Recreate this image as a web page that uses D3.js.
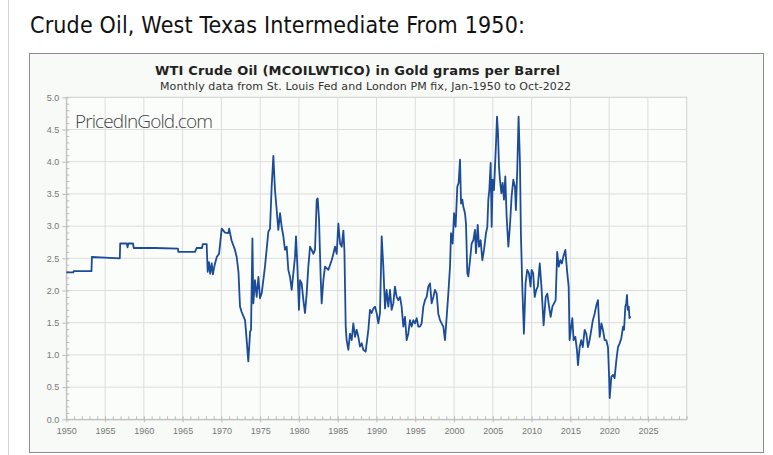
<!DOCTYPE html>
<meta charset="utf-8">
<style>
body {
  margin: 0;
  background: #fff;
}
.heading {
  font-family: "DejaVu Sans Condensed", "DejaVu Sans", sans-serif;
  font-size: 23px;
  fill: #111;
}
.frame {
  fill: #f7faf6;
  stroke: #8c8c8c;
  stroke-width: 1px;
}
.title {
  font-family: "DejaVu Sans", sans-serif;
  font-weight: bold;
  font-size: 13px;
  fill: #222;
}
.subtitle {
  font-family: "DejaVu Sans", sans-serif;
  font-size: 11px;
  fill: #333;
}
.grid line {
  stroke: #dcdcdc;
  stroke-width: 1px;
}
.axis text {
  font-family: "Liberation Sans", Arial, sans-serif;
  font-size: 9px;
  fill: #777;
}
.axis path, .axis line {
  stroke: #bbb;
}
.watermark {
  font-family: "Open Sans", "DejaVu Sans", sans-serif;
  font-weight: 300;
  font-size: 19px;
  fill: #444;
}
.price {
  fill: none;
  stroke: #1c4c98;
  stroke-width: 1.8px;
  stroke-linejoin: round;
}
</style>
<body>
<script src="https://d3js.org/d3.v7.min.js"></script>
<script>

var width = 773,
    height = 455;

// decimal year of each reading, and WTI in gold grams per barrel
var dates = [
  1950.0, 1950.9, 1950.95, 1953.25, 1953.3, 1955.0, 1956.9, 1956.95, 1957.8, 1957.9,
  1958.0, 1958.6, 1958.7, 1961.5, 1964.4, 1964.45, 1966.6, 1966.8, 1967.5, 1967.6,
  1968.1, 1968.23, 1968.4, 1968.55, 1968.75, 1968.9, 1969.1, 1969.4, 1969.7, 1970.04,
  1970.47, 1970.9, 1971.0, 1971.3, 1971.75, 1971.97, 1972.2, 1972.4, 1972.6, 1973.05,
  1973.26, 1973.47, 1973.7, 1973.82, 1974.0, 1974.12, 1974.33, 1974.55, 1974.77, 1974.98,
  1975.2, 1975.62, 1976.05, 1976.27, 1976.48, 1976.7, 1976.91, 1977.13, 1977.34, 1977.56,
  1977.77, 1977.99, 1978.2, 1978.42, 1978.63, 1978.85, 1979.06, 1979.28, 1979.49, 1979.62,
  1979.8, 1980.0, 1980.14, 1980.35, 1980.57, 1980.78, 1981.0, 1981.21, 1981.43, 1981.64,
  1981.86, 1982.07, 1982.29, 1982.42, 1982.59, 1982.8, 1982.93, 1983.15, 1983.36, 1983.79,
  1984.22, 1984.44, 1984.65, 1984.87, 1985.08, 1985.3, 1985.51, 1985.73, 1985.86, 1986.03,
  1986.15, 1986.37, 1986.58, 1986.8, 1987.01, 1987.23, 1987.44, 1987.66, 1987.87, 1988.09,
  1988.3, 1988.6, 1988.95, 1989.16, 1989.38, 1989.59, 1989.81, 1990.02, 1990.24, 1990.45,
  1990.67, 1990.88, 1991.1, 1991.3, 1991.52, 1991.74, 1991.95, 1992.17, 1992.38, 1992.6,
  1992.81, 1993.03, 1993.24, 1993.46, 1993.67, 1993.89, 1994.1, 1994.32, 1994.53, 1994.75,
  1994.96, 1995.18, 1995.39, 1995.61, 1995.82, 1996.04, 1996.25, 1996.47, 1996.68, 1996.9,
  1997.11, 1997.33, 1997.54, 1997.76, 1997.97, 1998.19, 1998.4, 1998.62, 1998.83, 1999.05,
  1999.26, 1999.48, 1999.61, 1999.82, 2000.0, 2000.2, 2000.42, 2000.59, 2000.77, 2000.9,
  2001.07, 2001.2, 2001.41, 2001.54, 2001.71, 2001.84, 2002.06, 2002.27, 2002.49, 2002.7,
  2002.83, 2003.05, 2003.22, 2003.43, 2003.65, 2003.86, 2004.12, 2004.29, 2004.42, 2004.55,
  2004.72, 2004.85, 2004.98, 2005.15, 2005.28, 2005.41, 2005.54, 2005.67, 2005.8, 2005.92,
  2006.1, 2006.27, 2006.44, 2006.61, 2006.78, 2007.0, 2007.2, 2007.42, 2007.64, 2007.85,
  2007.98, 2008.15, 2008.32, 2008.5, 2008.62, 2008.8, 2009.01, 2009.22, 2009.44, 2009.65,
  2009.87, 2010.0, 2010.2, 2010.4, 2010.6, 2010.8, 2011.05, 2011.27, 2011.55, 2011.82,
  2012.03, 2012.25, 2012.46, 2012.68, 2012.89, 2013.1, 2013.3, 2013.5, 2013.7, 2013.9,
  2014.1, 2014.35, 2014.56, 2014.78, 2014.9, 2015.1, 2015.25, 2015.42, 2015.64, 2015.85,
  2015.98, 2016.2, 2016.4, 2016.6, 2016.84, 2017.05, 2017.27, 2017.48, 2017.7, 2017.9,
  2018.13, 2018.35, 2018.56, 2018.78, 2019.0, 2019.2, 2019.42, 2019.63, 2019.85, 2019.98,
  2020.07, 2020.28, 2020.5, 2020.7, 2020.93, 2021.14, 2021.36, 2021.57, 2021.79, 2021.92,
  2022.09, 2022.2, 2022.3, 2022.4, 2022.53, 2022.62, 2022.75
];

var gramsPerBarrel = [
  2.28, 2.28, 2.30, 2.30, 2.52, 2.51, 2.50, 2.73, 2.73, 2.67,
  2.73, 2.73, 2.66, 2.66, 2.65, 2.60, 2.60, 2.66, 2.66, 2.72,
  2.72, 2.29, 2.44, 2.26, 2.42, 2.25, 2.38, 2.52, 2.57, 2.96,
  2.90, 2.89, 2.96, 2.78, 2.63, 2.52, 2.29, 1.75, 1.67, 1.54,
  1.23, 0.90, 1.36, 1.39, 2.81, 1.80, 2.16, 1.90, 2.21, 1.88,
  1.96, 2.37, 2.91, 2.96, 3.61, 4.09, 3.56, 3.25, 2.94, 3.20,
  2.99, 2.84, 2.63, 2.68, 2.32, 2.21, 2.01, 2.27, 2.52, 2.84,
  2.37, 1.70, 2.16, 2.11, 1.85, 1.65, 1.96, 2.37, 2.68, 2.63,
  2.57, 2.63, 3.41, 3.43, 3.10, 2.21, 1.80, 2.16, 2.37, 2.32,
  2.47, 2.57, 2.68, 2.57, 3.04, 2.73, 2.68, 2.93, 2.63, 1.44,
  1.23, 1.08, 1.33, 1.23, 1.49, 1.28, 1.39, 1.28, 1.13, 1.18,
  1.08, 1.05, 1.39, 1.70, 1.65, 1.72, 1.75, 1.65, 1.49, 1.65,
  2.84, 2.37, 1.72, 2.01, 1.75, 2.01, 1.70, 1.80, 2.06, 1.90,
  1.85, 1.90, 1.75, 1.44, 1.59, 1.23, 1.33, 1.54, 1.44, 1.54,
  1.49, 1.57, 1.44, 1.44, 1.49, 1.75, 1.85, 1.90, 2.06, 2.11,
  1.80, 1.90, 2.01, 1.95, 1.64, 1.54, 1.49, 1.44, 1.23, 1.59,
  1.95, 2.37, 2.89, 2.73, 3.20, 2.99, 3.61, 3.67, 4.03, 3.35,
  3.41, 3.30, 3.20, 3.04, 2.27, 2.22, 2.47, 2.73, 2.78, 2.94,
  2.58, 3.02, 2.68, 2.78, 2.47, 2.63, 2.89, 2.99, 3.41, 3.56,
  3.98, 2.99, 3.72, 3.56, 3.92, 4.28, 4.70, 4.44, 3.92, 3.72,
  3.51, 3.67, 3.41, 3.77, 3.15, 2.68, 2.99, 3.46, 3.72, 3.61,
  3.25, 3.87, 4.70, 3.98, 2.89, 2.06, 1.33, 2.11, 2.32, 2.27,
  2.06, 2.32, 2.27, 1.90, 2.01, 2.06, 2.42, 2.06, 1.46, 1.90,
  1.95, 1.75, 1.59, 1.75, 1.80, 1.85, 2.60, 2.37, 2.47, 2.42,
  2.53, 2.63, 2.32, 2.06, 1.23, 1.44, 1.57, 1.23, 1.28, 1.07,
  0.84, 1.12, 1.23, 1.12, 1.39, 1.33, 1.12, 1.23, 1.39, 1.54,
  1.64, 1.77, 1.85, 1.28, 1.49, 1.39, 1.23, 1.23, 1.12, 0.71,
  0.33, 0.66, 0.69, 0.64, 0.92, 1.12, 1.18, 1.26, 1.44, 1.39,
  1.75, 1.80, 1.93, 1.70, 1.75, 1.57, 1.60
];

var yearTicks = d3.range(1950, 2026, 5);
var valueTicks = d3.range(0, 5.01, 0.5);

var x = d3.scaleLinear()
    .domain([1950, 2030])
    .range([66.3, 686.7]);

var y = d3.scaleLinear()
    .domain([0, 5])
    .range([419.3, 97.3]);

var svg = d3.select("body").append("svg")
    .attr("width", width)
    .attr("height", height);

// page rule on the left
svg.append("line")
    .attr("x1", 8.5).attr("x2", 8.5)
    .attr("y1", 0).attr("y2", height)
    .attr("stroke", "#d4d4d4");

svg.append("text")
    .attr("class", "heading")
    .attr("x", 30)
    .attr("y", 33)
    .attr("textLength", 495)
    .text("Crude Oil, West Texas Intermediate From 1950:");

svg.append("rect")
    .attr("class", "frame")
    .attr("x", 29.5)
    .attr("y", 53.5)
    .attr("width", 734)
    .attr("height", 399);

svg.append("text")
    .attr("class", "title")
    .attr("x", 155)
    .attr("y", 75)
    .attr("textLength", 405)
    .text("WTI Crude Oil (MCOILWTICO) in Gold grams per Barrel");

svg.append("text")
    .attr("class", "subtitle")
    .attr("x", 160)
    .attr("y", 90)
    .attr("textLength", 411)
    .text("Monthly data from St. Louis Fed and London PM fix, Jan-1950 to Oct-2022");

// plot background + grid
svg.append("rect")
    .attr("x", x(1950)).attr("y", y(5))
    .attr("width", x(2030) - x(1950))
    .attr("height", y(0) - y(5))
    .attr("fill", "#fbfdfb")
    .attr("stroke", "#cfcfcf");

svg.append("g")
    .attr("class", "grid")
    .selectAll("line.v")
    .data(yearTicks.slice(1))
  .enter().append("line")
    .attr("x1", d => x(d)).attr("x2", d => x(d))
    .attr("y1", y(5)).attr("y2", y(0));

svg.append("g")
    .attr("class", "grid")
    .selectAll("line.h")
    .data(valueTicks.slice(1, -1))
  .enter().append("line")
    .attr("x1", x(1950)).attr("x2", x(2030))
    .attr("y1", d => y(d)).attr("y2", d => y(d));

// minor ticks, pointing into the plot
svg.append("g")
    .attr("class", "axis")
    .attr("transform", "translate(0," + y(0) + ")")
    .call(d3.axisBottom(x).ticks(80).tickSizeInner(-3).tickSizeOuter(0).tickFormat(""))
    .call(g => g.select(".domain").remove());

svg.append("g")
    .attr("class", "axis")
    .attr("transform", "translate(" + x(1950) + ",0)")
    .call(d3.axisLeft(y).ticks(50).tickSizeInner(-3).tickSizeOuter(0).tickFormat(""))
    .call(g => g.select(".domain").remove());

// major axes
svg.append("g")
    .attr("class", "axis")
    .attr("transform", "translate(0," + y(0) + ")")
    .call(d3.axisBottom(x).tickValues(yearTicks).tickFormat(d3.format("d")).tickSize(3).tickPadding(5).tickSizeOuter(0));

svg.append("g")
    .attr("class", "axis")
    .attr("transform", "translate(" + x(1950) + ",0)")
    .call(d3.axisLeft(y).tickValues(valueTicks).tickFormat(d3.format(".1f")).tickSize(4).tickPadding(3).tickSizeOuter(0));

svg.append("text")
    .attr("class", "watermark")
    .attr("x", 75)
    .attr("y", 128)
    .attr("textLength", 138)
    .text("PricedInGold.com");

var line = d3.line()
    .x((d, i) => x(dates[i]))
    .y(d => y(d));

svg.append("path")
    .datum(gramsPerBarrel)
    .attr("class", "price")
    .attr("d", line);

</script>
